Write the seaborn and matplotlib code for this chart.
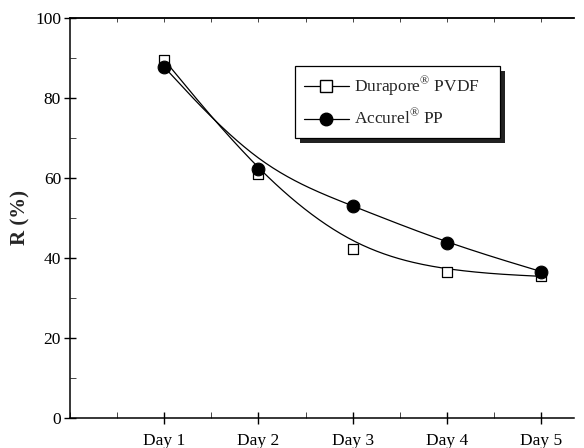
import numpy as np
import pandas as pd
import matplotlib
matplotlib.use("Agg")
import matplotlib.pyplot as plt
import seaborn as sns
from matplotlib.lines import Line2D
from matplotlib.patches import Rectangle
from matplotlib.ticker import MultipleLocator

days = [1, 2, 3, 4, 5]
day_labels = ["Day 1", "Day 2", "Day 3", "Day 4", "Day 5"]
durapore = [89.5, 61.0, 42.2, 36.6, 35.4]
accurel = [87.7, 62.3, 53.0, 43.7, 36.6]

sns.set_style("ticks")
plt.rcParams["font.family"] = ["Liberation Serif", "DejaVu Serif"]
plt.rcParams["mathtext.fontset"] = "custom"
plt.rcParams["mathtext.rm"] = "Liberation Serif"

df = pd.DataFrame({"day": days, "Durapore": durapore, "Accurel": accurel})


def bspline(x, y, n=40):
    # uniform cubic B-spline using the data points as control points
    # (end points repeated so the curve starts/ends on them)
    px = np.r_[[x[0]] * 2, x, [x[-1]] * 2].astype(float)
    py = np.r_[[y[0]] * 2, y, [y[-1]] * 2].astype(float)
    t = np.linspace(0, 1, n)
    b0 = (1 - t) ** 3 / 6
    b1 = (3 * t**3 - 6 * t**2 + 4) / 6
    b2 = (-3 * t**3 + 3 * t**2 + 3 * t + 1) / 6
    b3 = t**3 / 6
    xs, ys = [], []
    for i in range(len(px) - 3):
        xs.append(b0 * px[i] + b1 * px[i + 1] + b2 * px[i + 2] + b3 * px[i + 3])
        ys.append(b0 * py[i] + b1 * py[i + 1] + b2 * py[i + 2] + b3 * py[i + 3])
    return np.concatenate(xs), np.concatenate(ys)


fig, ax = plt.subplots(figsize=(5.84, 4.48), dpi=100)
fig.subplots_adjust(left=0.12, right=0.983, top=0.96, bottom=0.067)

for col in ["Durapore", "Accurel"]:
    sx, sy = bspline(df["day"].values, df[col].values)
    sns.lineplot(x=sx, y=sy, sort=False, estimator=None, color="black",
                 lw=0.9, ax=ax, zorder=2)

sns.scatterplot(data=df, x="day", y="Durapore", marker="s", s=55,
                facecolor="white", edgecolor="black", linewidth=0.9, ax=ax, zorder=3)
sns.scatterplot(data=df, x="day", y="Accurel", marker="o", s=85,
                color="black", edgecolor="black", ax=ax, zorder=4)

ax.set_xlim(0, 5.35)
ax.set_ylim(0, 100)
ax.set_xticks(days)
ax.set_xticklabels(day_labels)
ax.xaxis.set_minor_locator(MultipleLocator(0.5))
ax.yaxis.set_major_locator(MultipleLocator(20))
ax.yaxis.set_minor_locator(MultipleLocator(10))
ax.tick_params(axis="both", which="major", direction="inout", length=9, width=1,
               labelsize=12.5, colors="black")
ax.tick_params(axis="both", which="minor", direction="in", length=4, width=0.6)
ax.tick_params(axis="x", which="major", pad=6)
ax.tick_params(axis="y", which="major", pad=2)

top = ax.secondary_xaxis("top")
top.set_xticks([0.5, 1, 1.5, 2, 2.5, 3, 3.5, 4, 4.5, 5])
top.tick_params(direction="in", length=3, width=0.6, labeltop=False)
top.spines["top"].set_linewidth(1.1)

for s in ["left", "bottom", "top"]:
    ax.spines[s].set_linewidth(1.1)
    ax.spines[s].set_color("black")
ax.spines["right"].set_visible(False)

ax.set_xlabel("")
ax.set_ylabel("R (%)", fontsize=15, fontweight="bold", labelpad=3)

handles = [
    Line2D([], [], color="black", lw=0.9, marker="s", markersize=8,
           markerfacecolor="white", markeredgecolor="black"),
    Line2D([], [], color="black", lw=0.9, marker="o", markersize=9,
           markerfacecolor="black"),
]
labels = [r"Durapore$^{\mathregular{®}}$ PVDF", r"Accurel$^{\mathregular{®}}$ PP"]
leg = ax.legend(handles, labels, loc="upper left",
                bbox_to_anchor=(0.446, 0.88, 0.407, 0.0), mode="expand",
                fontsize=12.5, frameon=True, fancybox=False, shadow=False,
                framealpha=1, facecolor="white",
                handlelength=2.6, borderpad=0.5, labelspacing=0.6, handletextpad=0.3,
                borderaxespad=0)
leg.get_frame().set_edgecolor("black")
leg.get_frame().set_linewidth(0.9)
leg.set_zorder(6)

# dark drop shadow behind the legend box
fig.canvas.draw()
bb = leg.get_frame().get_window_extent().transformed(ax.transAxes.inverted())
axw, axh = ax.bbox.width, ax.bbox.height
ax.add_patch(Rectangle((bb.x0 + 5 / axw, bb.y0 - 5 / axh), bb.width, bb.height,
                       transform=ax.transAxes, facecolor="#222222", edgecolor="none",
                       clip_on=False, zorder=5.5))

plt.savefig("out.png", dpi=100)
